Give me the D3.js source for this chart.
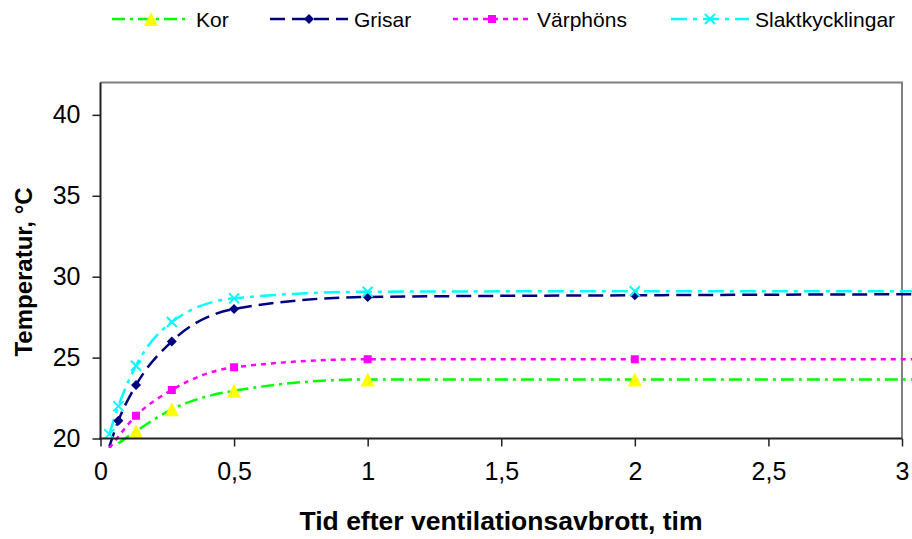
<!DOCTYPE html>
<html>
<head>
<meta charset="utf-8">
<script src="https://cdn.jsdelivr.net/npm/d3@7"></script>
<style>
  html, body { margin: 0; padding: 0; background: #fff; }
  svg { display: block; font-family: "Liberation Sans", Arial, sans-serif; }
</style>
</head>
<body>
<svg id="chart" width="912" height="539"></svg>
<script>
// Time after ventilation stop (hours) and temperature per animal group
const korTime = [0.067, 0.133, 0.267, 0.5, 1, 2, 4];
const korTemp = [19.7, 20.45, 21.8, 22.95, 23.65, 23.65, 23.65];

const grisarTime = [0.033, 0.067, 0.133, 0.267, 0.5, 1, 2, 4];
const grisarTemp = [19.5, 21.1, 23.3, 26.0, 28.0, 28.75, 28.85, 28.95];

const varphonsTime = [0.033, 0.133, 0.267, 0.5, 1, 2, 4];
const varphonsTemp = [19.4, 21.4, 23.0, 24.4, 24.9, 24.9, 24.9];

const slaktTime = [0.033, 0.067, 0.133, 0.267, 0.5, 1, 2, 4];
const slaktTemp = [20.27, 22.0, 24.5, 27.2, 28.66, 29.07, 29.1, 29.1];

const seriesNames = ["Kor", "Grisar", "Värphöns", "Slaktkycklingar"];

const xTickValues = [0, 0.5, 1, 1.5, 2, 2.5, 3];
const xTickLabels = ["0", "0,5", "1", "1,5", "2", "2,5", "3"];
const yTickValues = [20, 25, 30, 35, 40];

const xTitle = "Tid efter ventilationsavbrott, tim";
const yTitle = "Temperatur, °C";

// ---- layout ----
const svg = d3.select("#chart");
const plot = { left: 100.5, right: 902, top: 82.5, bottom: 438.5 };

const x = d3.scaleLinear().domain([0, 3]).range([plot.left, plot.right]);
const y = d3.scaleLinear().domain([20, 42]).range([plot.bottom, plot.top]);

const styles = [
  { color: "#00FF00", dash: "13,5,3,5", marker: "triangle", fill: "#FFFF00" },
  { color: "#000080", dash: "15,7", marker: "diamond", fill: "#000080" },
  { color: "#FF00FF", dash: "5,5", marker: "square", fill: "#FF00FF" },
  { color: "#00FFFF", dash: "16,6,4,6", marker: "cross", fill: "#00FFFF" }
];

const series = [
  { name: seriesNames[0], pts: korTime.map((t, i) => [t, korTemp[i]]) },
  { name: seriesNames[1], pts: grisarTime.map((t, i) => [t, grisarTemp[i]]) },
  { name: seriesNames[2], pts: varphonsTime.map((t, i) => [t, varphonsTemp[i]]) },
  { name: seriesNames[3], pts: slaktTime.map((t, i) => [t, slaktTemp[i]]) }
].map((s, i) => Object.assign(s, styles[i]));

// clip regions: lines may run slightly past the axes, markers stay inside
const defs = svg.append("defs");
defs.append("clipPath").attr("id", "lineClip")
  .append("rect").attr("x", plot.left).attr("y", plot.top)
  .attr("width", 912 - plot.left).attr("height", 448 - plot.top);
defs.append("clipPath").attr("id", "markClip")
  .append("rect").attr("x", plot.left - 10).attr("y", plot.top)
  .attr("width", plot.right - plot.left + 20).attr("height", plot.bottom - plot.top + 1);

// plot frame (top and right edges)
svg.append("path")
  .attr("d", `M${plot.left},${plot.top}H${plot.right}V${plot.bottom}`)
  .attr("fill", "none").attr("stroke", "#808080").attr("stroke-width", 2);

// ---- marker drawing ----
function markerPath(type) {
  switch (type) {
    case "triangle": return "M0,-7L7,7L-7,7Z";
    case "diamond": return "M0,-5L5,0L0,5L-5,0Z";
    case "square": return "M-4,-4H4V4H-4Z";
    case "cross": return "M-5,-5L5,5M-5,5L5,-5";
  }
}
function drawMarker(g, s) {
  const p = g.append("path").attr("d", markerPath(s.marker));
  if (s.marker === "cross") {
    p.attr("fill", "none").attr("stroke", s.color).attr("stroke-width", 2);
  } else {
    p.attr("fill", s.fill).attr("stroke", "none");
  }
  return p;
}

// ---- series (smoothed lines without overshoot) ----
const line = d3.line()
  .x(d => x(d[0])).y(d => y(d[1]))
  .curve(d3.curveMonotoneX);

const linesG = svg.append("g").attr("clip-path", "url(#lineClip)");
series.forEach(s => {
  linesG.append("path")
    .attr("d", line(s.pts))
    .attr("fill", "none")
    .attr("stroke", s.color)
    .attr("stroke-width", 2.5)
    .attr("stroke-dasharray", s.dash);
});

const marksG = svg.append("g").attr("clip-path", "url(#markClip)");
series.forEach(s => {
  s.pts.filter(d => d[1] >= 20 && d[0] <= 3).forEach(d => {
    const g = marksG.append("g").attr("transform", `translate(${x(d[0])},${y(d[1])})`);
    drawMarker(g, s);
  });
});

// ---- axes ----
const xAxis = d3.axisBottom(x).tickValues(xTickValues)
  .tickFormat((d, i) => xTickLabels[i]).tickSize(8).tickPadding(16);
const gx = svg.append("g").attr("transform", `translate(0,${plot.bottom})`).call(xAxis);
gx.select(".domain").attr("stroke", "#222").attr("stroke-width", 2)
  .attr("d", `M${plot.left - 1},0H${plot.right}`);
gx.selectAll(".tick line").attr("stroke", "#222").attr("stroke-width", 1.5);
gx.selectAll(".tick text").attr("font-size", 25).attr("fill", "#000")
  .attr("font-family", "Liberation Sans, Arial, sans-serif");

const yAxis = d3.axisLeft(y).tickValues(yTickValues).tickSize(8).tickPadding(12);
const gy = svg.append("g").attr("transform", `translate(${plot.left},0)`).call(yAxis);
gy.select(".domain").attr("stroke", "#222").attr("stroke-width", 2)
  .attr("d", `M0,${plot.top}V${plot.bottom + 1}`);
gy.selectAll(".tick line").attr("stroke", "#222").attr("stroke-width", 1.5);
gy.selectAll(".tick text").attr("font-size", 25).attr("fill", "#000")
  .attr("font-family", "Liberation Sans, Arial, sans-serif");

// ---- titles ----
svg.append("text")
  .attr("x", 501).attr("y", 530)
  .attr("text-anchor", "middle")
  .attr("font-size", 26.5).attr("font-weight", "bold")
  .text(xTitle);

svg.append("text")
  .attr("transform", `translate(32,${272}) rotate(-90)`)
  .attr("text-anchor", "middle")
  .attr("font-size", 24).attr("font-weight", "bold")
  .text(yTitle);

// ---- legend ----
const legendX = [112, 270, 453, 671];
const legend = svg.append("g");
series.forEach((s, i) => {
  const g = legend.append("g").attr("transform", `translate(${legendX[i]},19)`);
  g.append("line").attr("x1", 0).attr("x2", 78).attr("y1", 0).attr("y2", 0)
    .attr("stroke", s.color).attr("stroke-width", 2.5).attr("stroke-dasharray", s.dash);
  const m = g.append("g").attr("transform", "translate(39,0)");
  drawMarker(m, s);
  g.append("text").attr("x", 84).attr("y", 8)
    .attr("font-size", 21).attr("fill", "#000").text(s.name);
});
</script>
</body>
</html>
